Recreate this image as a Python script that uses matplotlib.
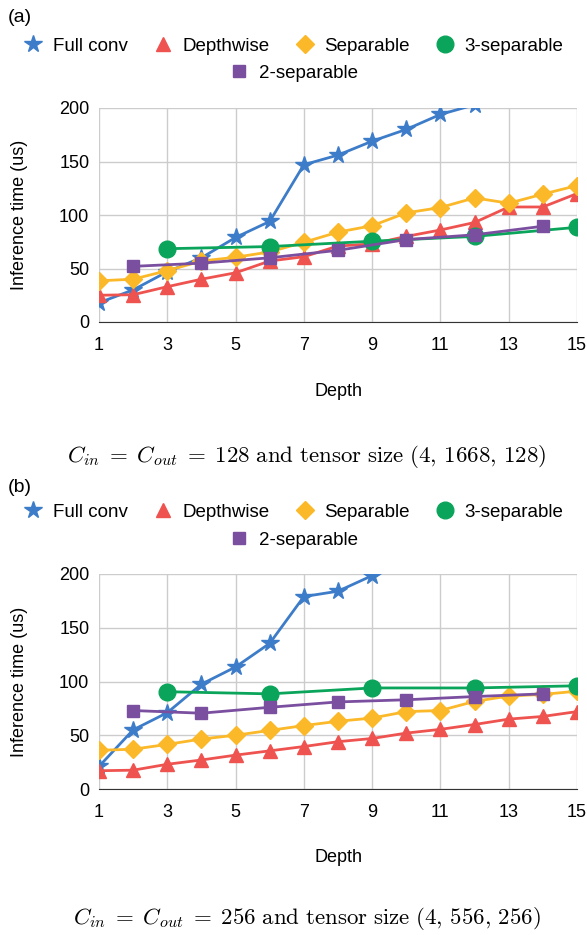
import matplotlib
matplotlib.use("Agg")
import matplotlib.pyplot as plt
from matplotlib.lines import Line2D

plt.rcParams["font.family"] = ["Liberation Sans", "DejaVu Sans"]
plt.rcParams["mathtext.fontset"] = "cm"

depth = list(range(1, 16))
even_depth = [2, 4, 6, 8, 10, 12, 14]
third_depth = [3, 6, 9, 12, 15]

# (a) Cin = Cout = 128
a_full = [18, 30, 47, 60, 79, 94, 147, 156, 169, 180, 194, 203]
a_depthwise = [25, 25.5, 33, 40, 46, 57, 61, 71, 73, 80, 86, 93, 107.5, 107.5, 120]
a_separable = [38.5, 40, 48, 57, 60.5, 65.5, 74.5, 84, 90, 102, 107, 116, 111, 119.5, 127.5]
a_three_sep = [68.5, 70.5, 75.5, 80, 88.5]
a_two_sep = [52, 55, 60, 67, 77, 81.5, 89.5]

# (b) Cin = Cout = 256
b_full = [21, 55, 71, 97.5, 113.5, 135.5, 179, 184, 198.5, 215]
b_depthwise = [17, 17.5, 23, 27, 31.5, 35.5, 39.5, 44, 47, 52, 55.5, 60, 65, 67.5, 72]
b_separable = [36, 37, 41.5, 46.5, 50, 54.5, 59, 63, 66, 72, 73, 81.5, 86.5, 88, 91]
b_three_sep = [90.5, 88.5, 94, 94, 96]
b_two_sep = [73, 70.5, 76, 81, 83, 86, 88.5]

names = ["Full conv", "Depthwise", "Separable", "3-separable", "2-separable"]
colors = ["#3d7cc9", "#ef5350", "#fbb829", "#0aa55a", "#7b4fa0"]
markers = ["*", "^", "D", "o", "s"]
msizes = [13, 9.5, 9, 12, 8.5]

captions = [r"$C_{in}\;=\;C_{out}\;=\;128\ \mathrm{and\ tensor\ size}\ (4,\,1668,\,128)$",
            r"$C_{in}\;=\;C_{out}\;=\;256\ \mathrm{and\ tensor\ size}\ (4,\,556,\,256)$"]

W, H = 587, 935
fig = plt.figure(figsize=(W / 100, H / 100), dpi=100)


def fy(py):
    return 1 - py / H


panels = [
    dict(label="(a)", top=108, bottom=322, lab_y=17, leg1=46, leg2=73,
         xl_y=391, cap_y=457,
         series=[(depth[:len(a_full)], a_full), (depth, a_depthwise),
                 (depth, a_separable), (third_depth, a_three_sep),
                 (even_depth, a_two_sep)]),
    dict(label="(b)", top=574, bottom=789, lab_y=487, leg1=512, leg2=540,
         xl_y=857, cap_y=918,
         series=[(depth[:len(b_full)], b_full), (depth, b_depthwise),
                 (depth, b_separable), (third_depth, b_three_sep),
                 (even_depth, b_two_sep)]),
]

left, right = 99, 577
for i, p in enumerate(panels):
    ax = fig.add_axes([left / W, fy(p["bottom"]), (right - left) / W,
                       (p["bottom"] - p["top"]) / H])
    for (xs, ys), c, m, ms in zip(p["series"], colors, markers, msizes):
        ax.plot(xs, ys, color=c, marker=m, markersize=ms, lw=2, zorder=3)
    ax.set_xlim(1, 15)
    ax.set_ylim(0, 200)
    ax.set_xticks(range(1, 16, 2))
    ax.set_yticks(range(0, 201, 50))
    ax.grid(color="#cccccc", lw=1)
    ax.set_axisbelow(True)
    for s in ["top", "right", "left"]:
        ax.spines[s].set_visible(False)
    ax.spines["bottom"].set_color("#333333")
    ax.tick_params(length=0, labelsize=13)
    ax.tick_params(axis="x", pad=11)
    ax.tick_params(axis="y", pad=7)

    fig.text(20 / W, fy((p["top"] + p["bottom"]) / 2), "Inference time (us)",
             rotation=90, ha="center", va="center", fontsize=13)
    fig.text((left + right) / 2 / W, fy(p["xl_y"]), "Depth",
             ha="center", va="center", fontsize=13)
    fig.text(307 / W, fy(p["cap_y"]), captions[i], ha="center", va="center",
             fontsize=16.5)
    fig.text(8 / W, fy(p["lab_y"]), p["label"], ha="left", va="center",
             fontsize=14)

    handles = [Line2D([], [], ls="none", color=c, marker=m, markersize=ms)
               for c, m, ms in zip(colors, markers, msizes)]
    fig.legend(handles[:4], names[:4], loc="center", ncol=4,
               bbox_to_anchor=(0.5, fy(p["leg1"])), frameon=False,
               fontsize=13.5, handlelength=1, handletextpad=0.55,
               columnspacing=1.37, borderaxespad=0, borderpad=0)
    fig.legend(handles[4:], names[4:], loc="center",
               bbox_to_anchor=(0.5, fy(p["leg2"])), frameon=False,
               fontsize=13.5, handlelength=1, handletextpad=0.55,
               borderaxespad=0, borderpad=0)

fig.savefig("out.png", dpi=100)
